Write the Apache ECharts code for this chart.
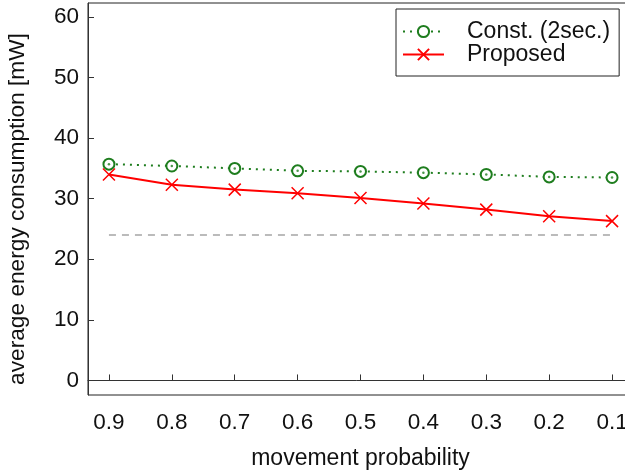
<!DOCTYPE html>
<html>
<head>
<meta charset="utf-8">
<script src="https://cdn.jsdelivr.net/npm/echarts@6/dist/echarts.min.js"></script>
<style>
  html, body { margin: 0; padding: 0; background: #fff; }
  #chart { width: 625px; height: 475px; }
</style>
</head>
<body>
<div id="chart"></div>
<script>
// movement probability (x), read right to left in the picture
const probs = [0.9, 0.8, 0.7, 0.6, 0.5, 0.4, 0.3, 0.2, 0.1]
const constVals = [35.7, 35.4, 35.0, 34.6, 34.5, 34.3, 34.0, 33.6, 33.5]
const proposedVals = [34.0, 32.3, 31.5, 30.9, 30.1, 29.2, 28.2, 27.1, 26.3]
const baseline = 24
const yTicks = [0, 10, 20, 30, 40, 50, 60]

const font = 'Liberation Sans, Arial, Helvetica, sans-serif'
const toPairs = vals => probs.map((p, i) => [p, vals[i]])

const chart = echarts.init(document.getElementById('chart'))

const option = {
  animation: false,
  textStyle: { fontFamily: font },
  grid: {
    left: 88, top: 3, width: 545, height: 392,
    outerBoundsMode: 'none',
    containLabel: false,
    show: true, borderColor: '#222', borderWidth: 1
  },
  xAxis: {
    type: 'value',
    inverse: true,
    min: 0.0667,
    max: 0.9333,
    name: 'movement probability',
    nameLocation: 'middle',
    nameGap: 52,
    nameTextStyle: { fontSize: 23, color: '#111', fontFamily: font },
    axisLine: { lineStyle: { color: '#333' } },
    axisTick: { inside: true, length: 6, customValues: probs, lineStyle: { color: '#333' } },
    axisLabel: {
      customValues: probs, fontSize: 22.5, color: '#111', margin: 16,
      formatter: v => v.toFixed(1)
    },
    splitLine: { show: false }
  },
  yAxis: {
    type: 'value',
    min: -2.4,
    max: 62.3,
    axisLine: { show: true, lineStyle: { color: '#333' } },
    axisTick: { show: true, inside: true, length: 6, customValues: yTicks, lineStyle: { color: '#333' } },
    axisLabel: { customValues: yTicks, fontSize: 22.5, color: '#111', margin: 9 },
    splitLine: { show: false }
  },
  graphic: [{
    type: 'text',
    x: 18, y: 209,
    rotation: Math.PI / 2,
    style: {
      text: 'average energy consumption [mW]',
      font: '22.7px ' + font,
      fill: '#111',
      align: 'center',
      verticalAlign: 'middle'
    }
  }],
  legend: {
    data: ['Const. (2sec.)', 'Proposed'],
    orient: 'vertical',
    left: 396, top: 9,
    padding: [11, 9, 10, 6],
    itemWidth: 41, itemHeight: 14, itemGap: 0,
    borderColor: '#222', borderWidth: 1,
    backgroundColor: '#fff',
    textStyle: { fontSize: 23, color: '#111', lineHeight: 23, padding: [0, 0, 0, 18] }
  },
  series: [
    {
      name: 'baseline',
      type: 'line',
      data: [[0.9, baseline], [0.1, baseline]],
      symbol: 'none',
      lineStyle: { color: '#bbbbbb', width: 2, type: [7, 6] },
      silent: true
    },
    {
      name: 'Const. (2sec.)',
      type: 'line',
      data: toPairs(constVals),
      color: '#1e7d1e',
      symbol: 'emptyCircle',
      symbolSize: 11,
      lineStyle: { color: '#1e7d1e', width: 2, type: [2, 5] },
      itemStyle: { color: '#1e7d1e', borderWidth: 1.5 }
    },
    {
      name: 'const-dots',
      type: 'scatter',
      data: toPairs(constVals),
      symbol: 'circle',
      symbolSize: 2.5,
      z: 5,
      itemStyle: { color: '#1e7d1e' },
      silent: true
    },
    {
      name: 'Proposed',
      type: 'line',
      data: toPairs(proposedVals),
      color: '#ff0000',
      symbol: 'path://M0,0L10,10M10,0L0,10',
      symbolSize: 12,
      lineStyle: { color: '#ff0000', width: 2 },
      itemStyle: { color: 'rgba(0,0,0,0)', borderColor: '#ff0000', borderWidth: 1.5 }
    }
  ]
}

chart.setOption(option)
window.addEventListener('resize', () => chart.resize())
</script>
</body>
</html>
